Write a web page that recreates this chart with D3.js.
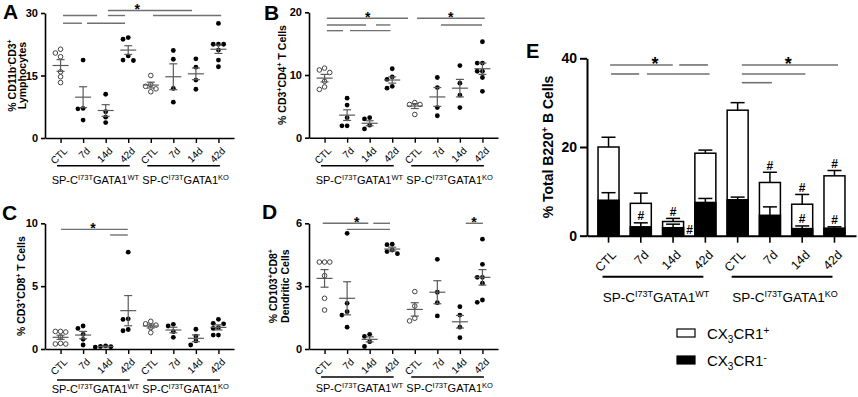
<!DOCTYPE html>
<html><head><meta charset="utf-8">
<script src="https://cdn.jsdelivr.net/npm/d3@7/dist/d3.min.js"></script>
<style>
body{margin:0;background:#fff}
svg{display:block}
text{font-family:"Liberation Sans",Arial,Helvetica,sans-serif}
</style>
</head><body>
<svg id="c" width="858" height="397"></svg>
<script>
// ---------------- DATA ----------------
const categories = ["CTL","7d","14d","42d","CTL","7d","14d","42d"];
const openCats = [0,4];
const groupLabels = [["SP-C",["I73T","sup"],"GATA1",["WT","sup"]], ["SP-C",["I73T","sup"],"GATA1",["KO","sup"]]];
const groupSpans = [[0,3],[4,7]];

// Panel A: % CD11b-CD3+ lymphocytes
const aValues = [[21.3,20.4,19.5,15.9,14.7,13.3],[18.7,7.1,7.0,4.3],[10.5,6.3,5.0,3.7],[24.1,23.7,19.7,18.7,18.6],
                 [15.0,12.8,12.4,11.8,11.1],[21.0,18.9,11.9,8.6],[19.0,17.0,13.9,11.7],[27.5,22.5,22.5,22.5,21.1,18.7,17.1]];
const aMean = [17.4,9.8,6.6,21.1,12.7,14.7,15.4,21.3];
const aSem  = [1.4,2.5,1.4,1.05,0.7,3.1,1.4,1.0];
const aTicks = [0,15,30];
const aSig = [[30.6,2.1,5.83],[29.4,0.11,1.62],[29.4,2.1,2.86],[29.4,4.1,7.12],[27.55,0.11,0.95],[27.55,1.17,2.86]];
const aStars = [[3.4,30.6]];

// Panel B: % CD3+CD4+ T cells
const bValues = [[11.1,10.8,10.4,9.0,8.1,7.7],[6.3,5.2,3.2,1.9,1.9],[3.2,3.0,2.0,1.4],[11.0,9.7,9.3,8.2,7.9],
                 [5.6,5.3,5.3,3.7],[9.6,8.0,4.8,3.5],[11.5,8.7,6.8,4.8],[15.3,11.9,11.9,10.6,10.6,9.6,7.4]];
const bMean = [9.5,3.6,2.3,9.2,5.05,6.5,7.9,11.0];
const bSem  = [0.6,0.85,0.4,0.5,0.4,1.5,1.4,0.9];
const bTicks = [0,10,20];
const bSig = [[19.05,0.1,3.7],[19.05,4.1,7.1],[17.98,0.1,1.84],[17.98,2.28,2.92],[17.98,5.16,6.98],[17.07,0.1,0.82],[17.07,1.13,2.92]];
const bStars = [[1.91,19.05],[5.59,19.05]];

// Panel C: % CD3+CD8+ T cells
const cValues = [[1.4,1.4,1.35,0.95,0.45,0.4,0.4],[1.83,1.64,1.17,0.77,0.32],[0.25,0.2,0.18,0.15],[7.7,2.4,2.35,1.55,1.45],
                 [2.2,2.0,1.9,1.7,1.3],[1.96,1.83,1.38,0.93],[1.57,1.03,0.64,0.32],[2.36,2.04,2.0,1.7,1.64,1.11,1.11]];
const cMean = [0.93,1.11,0.2,3.05,1.83,1.51,0.85,1.72];
const cSem  = [0.17,0.29,0.03,1.2,0.15,0.22,0.27,0.2];
const cTicks = [0,5,10];
const cSig = [[9.52,0.02,2.98],[9.07,2.2,2.98]];
const cStars = [[1.44,9.52]];

// Panel D: % CD103+CD8+ dendritic cells
const dValues = [[4.15,4.15,4.15,3.5,2.42,1.86],[5.52,2.18,1.78,1.62,1.04],[0.7,0.6,0.35,0.12],[5.0,4.98,4.72,4.65,4.55],
                 [2.74,2.05,1.47,1.34],[4.28,2.71,2.21,1.58],[2.02,1.62,1.04,0.54],[5.24,4.04,3.42,3.42,3.14,2.34,2.23]];
const dMean = [3.37,2.42,0.46,4.77,1.89,2.71,1.3,3.42];
const dSem  = [0.42,0.79,0.12,0.09,0.32,0.55,0.3,0.37];
const dTicks = [0,3,6];
const dSig = [[6.0,-0.08,1.94],[6.0,2.16,2.9],[5.71,0.98,2.9],[6.0,6.26,7.02]];
const dStars = [[1.43,6.0],[6.62,6.0]];

// Panel E: % total B220+ B cells (stacked CX3CR1+ / CX3CR1-)
const eTotal    = [20.0,7.3,3.2,18.6,28.3,12.0,7.1,13.5];
const eTotalSem = [2.2,2.3,0.7,0.7,1.7,2.3,2.2,1.2];
const eNeg      = [8.0,2.0,1.8,7.5,8.1,4.6,1.6,1.7];
const eNegSem   = [1.7,0.9,0.8,0.9,0.6,1.9,0.6,0.3];
const eHashTotal = [0,0,1,0,0,1,1,1];
const eHashNeg   = [0,1,2,0,0,0,1,1];   // 2 = mark drawn beside the bar
const eTicks = [0,20,40];
const eSig = [[38.5,0.05,1.99],[38.5,2.19,3.08],[36.46,0.08,0.95],[36.46,1.19,3.13],[38.5,4.13,7.11],[36.46,4.13,6.1],[34.5,4.13,5.06]];
const eStars = [[1.44,38.5],[5.57,38.5]];
const legendLabels = [["CX",["3","sub"],"CR1",["+","sup"]],["CX",["3","sub"],"CR1",["-","sup"]]];

// ---------------- DRAWING ----------------
const svg = d3.select("#c");
const GREY = "#707070";

function rich(sel, parts, size, small) {
  let off = 0;
  parts.forEach(p => {
    const [t, k] = typeof p === "string" ? [p, "n"] : p;
    const target = k === "sup" ? -size*0.36 : k === "sub" ? size*0.25 : 0;
    sel.append("tspan").text(t).attr("font-size", k === "n" ? size : small).attr("dy", target - off);
    off = target;
  });
}

function swarm(vals, y, step, minD) {
  const pts = vals.map(v => ({v, py: y(v), dx: 0})).sort((a,b) => a.py - b.py);
  const placed = [];
  pts.forEach(p => {
    const cands = [0];
    for (let k = 1; k < 6; k++) cands.push(-k*step, k*step);
    for (const c of cands) {
      if (placed.every(q => Math.hypot(q.dx - c, q.py - p.py) >= minD)) { p.dx = c; break; }
    }
    placed.push(p);
  });
  return pts;
}

function dotPanel(L, values, mean, sem, ticks, sig, stars, letter, titleLines) {
  const g = svg.append("g");
  const x = d3.scalePoint().domain(d3.range(8)).range([L.x0, L.x1]).padding(0.69);
  const xi = d3.scaleLinear().domain([0,7]).range([x(0), x(7)]);
  const y = d3.scaleLinear().domain([ticks[0], ticks[ticks.length-1]]).range([L.yb, L.yt]);

  // y axis
  const ya = g.append("g").attr("transform", `translate(${L.x0},0)`)
    .call(d3.axisLeft(y).tickValues(ticks).tickFormat(d3.format("d")).tickSize(4).tickSizeOuter(0).tickPadding(3));
  ya.select(".domain").attr("stroke-width", 1.6);
  ya.selectAll(".tick line").attr("stroke-width", 1.6);
  ya.selectAll(".tick text").attr("font-size", 11).attr("font-weight", "bold").attr("font-family", null);

  // x axis
  const xa = g.append("g").attr("transform", `translate(0,${L.yb})`)
    .call(d3.axisBottom(x).tickSize(5).tickSizeOuter(0).tickFormat(i => categories[i]));
  xa.select(".domain").attr("stroke-width", 1.6);
  xa.selectAll(".tick line").attr("stroke-width", 1.4);
  xa.selectAll(".tick text").attr("font-size", 10).attr("font-family", null)
    .attr("x", 0).attr("y", 0).attr("dy", null).attr("text-anchor", "end")
    .attr("transform", "translate(7,13.5) rotate(-45)");

  // dots
  values.forEach((vals, i) => {
    const open = openCats.includes(i);
    const pts = swarm(vals, y, 5.2, 4.9);
    g.selectAll(null).data(pts).enter().append("circle")
      .attr("cx", d => x(i) + d.dx).attr("cy", d => d.py)
      .attr("r", open ? 2.3 : 2.4)
      .attr("fill", open ? "#fff" : "#000")
      .attr("stroke", open ? "#444" : "none").attr("stroke-width", 1);
    // mean +/- sem
    const cx = x(i), m = y(mean[i]), hi = y(mean[i] + sem[i]), lo = y(mean[i] - sem[i]);
    const e = g.append("g").attr("stroke", "#5a5a5a").attr("stroke-width", 1.2).attr("fill", "none");
    e.append("line").attr("x1", cx-8).attr("x2", cx+8).attr("y1", m).attr("y2", m);
    e.append("line").attr("x1", cx).attr("x2", cx).attr("y1", hi).attr("y2", lo);
    e.append("line").attr("x1", cx-4).attr("x2", cx+4).attr("y1", hi).attr("y2", hi);
    e.append("line").attr("x1", cx-4).attr("x2", cx+4).attr("y1", lo).attr("y2", lo);
  });

  // significance lines
  g.selectAll(null).data(sig).enter().append("line")
    .attr("x1", d => xi(d[1])).attr("x2", d => xi(d[2]))
    .attr("y1", d => y(d[0])).attr("y2", d => y(d[0]))
    .attr("stroke", GREY).attr("stroke-width", 1.4);
  g.selectAll(null).data(stars).enter().append("text")
    .attr("x", d => xi(d[0])).attr("y", d => y(d[1]) + 3.5)
    .attr("text-anchor", "middle").attr("font-size", 14).attr("font-weight", "bold").text("*");

  // group lines & labels
  groupSpans.forEach((s, k) => {
    const a = x(s[0]) - 3.5, b = x(s[1]) + 1.5;
    g.append("line").attr("x1", a).attr("x2", b).attr("y1", L.groupY).attr("y2", L.groupY)
      .attr("stroke", "#000").attr("stroke-width", 1.6);
    const t = g.append("text").attr("x", (a+b)/2 + 2).attr("y", L.groupTextY).attr("text-anchor", "middle");
    rich(t, groupLabels[k], 11, 7.5);
  });

  // letter
  g.append("text").attr("x", L.letter[0]).attr("y", L.letter[1]).attr("font-size", 21)
    .attr("font-weight", "bold").text(letter);

  // y title
  const cy = (L.yt + L.yb)/2;
  titleLines.forEach((parts, k) => {
    const t = g.append("text").attr("transform", `translate(${L.titleX[k]},${cy}) rotate(-90)`)
      .attr("text-anchor", "middle").attr("font-weight", "bold");
    rich(t, parts, 10.5, 7);
  });
}

dotPanel({x0:45, x1:234, yt:13, yb:138, groupY:165.7, groupTextY:183.5, letter:[3,18.5], titleX:[16,26]},
  aValues, aMean, aSem, aTicks, aSig, aStars, "A",
  [["% CD11b",["-","sup"],"CD3",["+","sup"]], ["Lymphocytes"]]);
dotPanel({x0:309, x1:498, yt:12.3, yb:137.7, groupY:165.7, groupTextY:183.5, letter:[264,19.5], titleX:[286]},
  bValues, bMean, bSem, bTicks, bSig, bStars, "B",
  [["% CD3",["+","sup"],"CD4",["+","sup"]," T Cells"]]);
dotPanel({x0:45, x1:234, yt:223.3, yb:349, groupY:380, groupTextY:392.5, letter:[2,220], titleX:[25]},
  cValues, cMean, cSem, cTicks, cSig, cStars, "C",
  [["% CD3",["+","sup"],"CD8",["+","sup"]," T Cells"]]);
dotPanel({x0:309, x1:498, yt:223.3, yb:349, groupY:377, groupTextY:392, letter:[262,219], titleX:[277,289]},
  dValues, dMean, dSem, dTicks, dSig, dStars, "D",
  [["% CD103",["+","sup"],"CD8",["+","sup"]], ["Dendritic Cells"]]);

// ---------- Panel E ----------
(function(){
  const L = {x0:587, x1:856, yt:58.3, yb:235.7};
  const g = svg.append("g");
  const x = d3.scaleBand().domain(d3.range(8)).range([L.x0, L.x1]).paddingInner(0.35).paddingOuter(0.342);
  const cxf = i => x(i) + x.bandwidth()/2;
  const xi = d3.scaleLinear().domain([0,7]).range([cxf(0), cxf(7)]);
  const y = d3.scaleLinear().domain([0,40]).range([L.yb, L.yt]);

  const ya = g.append("g").attr("transform", `translate(${L.x0},0)`)
    .call(d3.axisLeft(y).tickValues(eTicks).tickSize(7).tickSizeOuter(0).tickPadding(3));
  ya.select(".domain").attr("stroke-width", 2);
  ya.selectAll(".tick line").attr("stroke-width", 2);
  ya.selectAll(".tick text").attr("font-size", 14).attr("font-weight", "bold").attr("font-family", null);

  // bars
  const bw = x.bandwidth();
  g.selectAll(null).data(eTotal).enter().append("rect")
    .attr("x", (d,i) => x(i)).attr("width", bw).attr("y", d => y(d)).attr("height", d => y(0) - y(d))
    .attr("fill", "#fff").attr("stroke", "#000").attr("stroke-width", 1.5);
  g.selectAll(null).data(eNeg).enter().append("rect")
    .attr("x", (d,i) => x(i)).attr("width", bw).attr("y", d => y(d)).attr("height", d => y(0) - y(d))
    .attr("fill", "#000").attr("stroke", "#000").attr("stroke-width", 1.5);

  function errs(vals, sems) {
    vals.forEach((v,i) => {
      const c = cxf(i), top = y(v + sems[i]);
      g.append("line").attr("x1", c).attr("x2", c).attr("y1", y(v)).attr("y2", top).attr("stroke", "#000").attr("stroke-width", 1.5);
      g.append("line").attr("x1", c-7).attr("x2", c+7).attr("y1", top).attr("y2", top).attr("stroke", "#000").attr("stroke-width", 1.5);
    });
  }
  errs(eTotal, eTotalSem);
  errs(eNeg, eNegSem);

  function hashes(vals, sems, flags) {
    flags.forEach((f,i) => {
      if (!f) return;
      const t = g.append("text").attr("font-size", 12).attr("font-weight", "bold").attr("text-anchor", "middle").text("#");
      if (f === 2) t.attr("x", x(i) + bw + 6).attr("y", y(0) - 1.5);
      else t.attr("x", cxf(i)).attr("y", y(vals[i] + sems[i]) - 2.5);
    });
  }
  hashes(eTotal, eTotalSem, eHashTotal);
  hashes(eNeg, eNegSem, eHashNeg);

  // x axis on top of bars
  const xa = g.append("g").attr("transform", `translate(0,${L.yb})`)
    .call(d3.axisBottom(x).tickSize(7).tickSizeOuter(0).tickFormat(i => categories[i]));
  xa.select(".domain").attr("stroke-width", 2);
  xa.selectAll(".tick line").attr("stroke-width", 1.6);
  xa.selectAll(".tick text").attr("font-size", 12.5).attr("font-family", null)
    .attr("x", 0).attr("y", 0).attr("dy", null).attr("text-anchor", "end")
    .attr("transform", "translate(8.5,20) rotate(-45)");

  // significance
  g.selectAll(null).data(eSig).enter().append("line")
    .attr("x1", d => xi(d[1])).attr("x2", d => xi(d[2]))
    .attr("y1", d => y(d[0])).attr("y2", d => y(d[0]))
    .attr("stroke", GREY).attr("stroke-width", 1.6);
  g.selectAll(null).data(eStars).enter().append("text")
    .attr("x", d => xi(d[0])).attr("y", d => y(d[1]) + 5)
    .attr("text-anchor", "middle").attr("font-size", 18).attr("font-weight", "bold").text("*");

  // groups
  groupSpans.forEach((s,k) => {
    const a = cxf(s[0]) - 6, b = cxf(s[1]) - 2;
    g.append("line").attr("x1", a).attr("x2", b).attr("y1", 276.7).attr("y2", 276.7).attr("stroke", "#000").attr("stroke-width", 2);
    const t = g.append("text").attr("x", (a+b)/2 + 3).attr("y", 301.5).attr("text-anchor", "middle");
    rich(t, groupLabels[k], 13.5, 9);
  });

  // letter & title
  g.append("text").attr("x", 526).attr("y", 58).attr("font-size", 20).attr("font-weight", "bold").text("E");
  const tt = g.append("text").attr("transform", `translate(553,${(L.yt+L.yb)/2}) rotate(-90)`)
    .attr("text-anchor", "middle").attr("font-weight", "bold");
  rich(tt, ["% Total B220",["+","sup"]," B Cells"], 14, 9);

  // legend
  const fills = ["#fff","#000"];
  legendLabels.forEach((parts,k) => {
    const yy = 329 + k*27;
    g.append("rect").attr("x", 677).attr("y", yy).attr("width", 18).attr("height", 8)
      .attr("fill", fills[k]).attr("stroke", "#000").attr("stroke-width", 1.2);
    const t = g.append("text").attr("x", 707).attr("y", yy + 10);
    rich(t, parts, 15, 10);
  });
})();
</script>
</body></html>
